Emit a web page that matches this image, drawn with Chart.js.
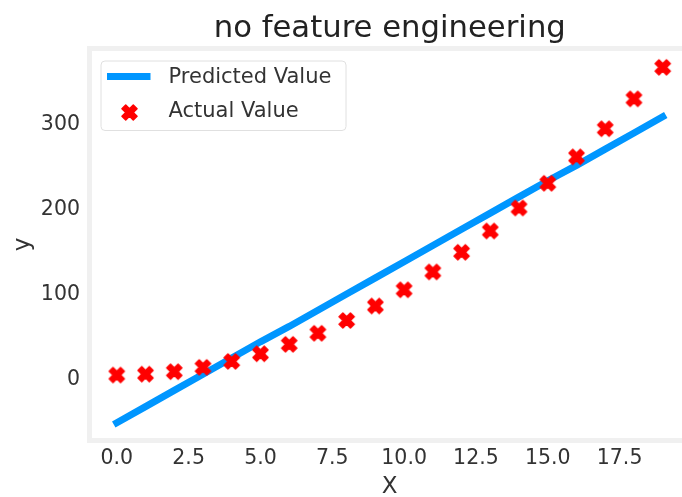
<!DOCTYPE html>
<html>
<head>
<meta charset="utf-8">
<script src="https://cdn.jsdelivr.net/npm/chart.js@4/dist/chart.umd.min.js"></script>
<style>
  html, body { margin: 0; padding: 0; background: #ffffff; overflow: hidden; }
  #wrap { width: 700px; height: 497px; }
</style>
</head>
<body>
<div id="wrap"><canvas id="c" width="700" height="497"></canvas></div>
<script>
// ---- data ----
const xValues = [0,1,2,3,4,5,6,7,8,9,10,11,12,13,14,15,16,17,18,19];
const actualValues = [1,2,5,10,17,26,37,50,65,82,101,122,145,170,197,226,257,290,325,362];
const predictedValues = [-55,-36,-17,2,21,40,58,77,96,115,134,153,172,191,210,229,247,266,285,304];
const xTickValues = [0,2.5,5,7.5,10,12.5,15,17.5];
const yTickValues = [0,100,200,300];
const seriesLabels = ['Predicted Value', 'Actual Value'];
const titleText = 'no feature engineering';
const xLabel = 'X';
const yLabel = 'y';

// ---- styles ----
const FONT = 'DejaVu Sans';
const BLUE = '#0096ff';
const RED = '#ff0000';
const TEXT = '#333333';

// filled "X" marker (matplotlib-like)
function makeXMarker(size) {
  const c = document.createElement('canvas');
  const d = Math.ceil(size * 1.05) + 4;
  c.width = d; c.height = d;
  const g = c.getContext('2d');
  g.translate(d / 2, d / 2);
  g.rotate(Math.PI / 4);
  const s = size / 6;
  const pts = [[-1,-3],[1,-3],[1,-1],[3,-1],[3,1],[1,1],[1,3],[-1,3],[-1,1],[-3,1],[-3,-1],[-1,-1]];
  g.beginPath();
  pts.forEach((p, i) => { const px = p[0]*s, py = p[1]*s; i ? g.lineTo(px, py) : g.moveTo(px, py); });
  g.closePath();
  g.fillStyle = RED;
  g.fill();
  g.strokeStyle = RED;
  g.lineJoin = 'round';
  g.lineWidth = 1.5;
  g.stroke();
  return c;
}
const xMarker = makeXMarker(16);

const framePlugin = {
  id: 'frame',
  afterDatasetsDraw(chart) {
    const {ctx, chartArea: a} = chart;
    ctx.save();
    ctx.strokeStyle = '#f0f0f0';
    ctx.lineWidth = 5;
    ctx.strokeRect(a.left, a.top, a.right - a.left, a.bottom - a.top);
    ctx.restore();
  }
};

const legendPlugin = {
  id: 'innerLegend',
  afterDraw(chart) {
    const {ctx, chartArea: a} = chart;
    const ds = chart.data.datasets;
    ctx.save();
    const x0 = a.left + 11.5, y0 = a.top + 12.5;
    const w = 245, h = 69.5, r = 4;
    ctx.beginPath();
    ctx.roundRect(x0, y0, w, h, r);
    ctx.fillStyle = 'rgba(255,255,255,0.85)';
    ctx.fill();
    ctx.strokeStyle = '#e0e0e0';
    ctx.lineWidth = 1;
    ctx.stroke();
    const row1 = y0 + 15.5, row2 = y0 + 50;
    ctx.strokeStyle = ds[0].borderColor;
    ctx.lineWidth = 7;
    ctx.lineCap = 'butt';
    ctx.beginPath();
    ctx.moveTo(x0 + 6, row1);
    ctx.lineTo(x0 + 49.5, row1);
    ctx.stroke();
    ctx.drawImage(xMarker, x0 + 28.5 - xMarker.width / 2, row2 + 1.5 - xMarker.height / 2);
    ctx.fillStyle = TEXT;
    ctx.font = '21px "' + FONT + '"';
    ctx.textBaseline = 'middle';
    ctx.textAlign = 'left';
    ctx.fillText(ds[0].label, x0 + 67.5, row1 + 1.5);
    ctx.fillText(ds[1].label, x0 + 67.5, row2 + 0.5);
    ctx.restore();
  }
};

new Chart(document.getElementById('c'), {
  type: 'scatter',
  data: {
    datasets: [
      {
        type: 'line',
        label: seriesLabels[0],
        data: xValues.map((x, i) => ({x: x, y: predictedValues[i]})),
        borderColor: BLUE,
        backgroundColor: BLUE,
        borderWidth: 7,
        borderCapStyle: 'square',
        pointRadius: 0,
        fill: false,
        tension: 0,
        order: 2
      },
      {
        type: 'scatter',
        label: seriesLabels[1],
        data: xValues.map((x, i) => ({x: x, y: actualValues[i]})),
        pointStyle: xMarker,
        pointRadius: 9,
        backgroundColor: RED,
        borderColor: RED,
        order: 1
      }
    ]
  },
  options: {
    responsive: false,
    devicePixelRatio: 1,
    animation: false,
    layout: { padding: { left: 0, right: 7.5, top: 0, bottom: 0 } },
    plugins: {
      legend: { display: false },
      tooltip: { enabled: false },
      title: {
        display: true,
        text: titleText,
        fullSize: false,
        color: '#222222',
        font: { family: FONT, size: 30.7, weight: 'normal', lineHeight: 1.2 },
        padding: { top: 10.6, bottom: 1.06 }
      }
    },
    scales: {
      x: {
        type: 'linear',
        min: -0.95,
        max: 19.95,
        grid: { display: false, drawTicks: false },
        border: { display: false },
        afterBuildTicks(scale) { scale.ticks = xTickValues.map(v => ({value: v})); },
        afterFit(scale) { scale.height = 56.5; },
        ticks: {
          color: TEXT,
          padding: 6.2,
          maxRotation: 0,
          font: { family: FONT, size: 20.5 },
          callback: v => Number(v).toFixed(1)
        },
        title: {
          display: true,
          text: xLabel,
          color: TEXT,
          font: { family: FONT, size: 23, lineHeight: 0.9 },
          padding: { top: 0, bottom: 0 }
        }
      },
      y: {
        type: 'linear',
        min: -75.8,
        max: 384.1,
        grid: { display: false, drawTicks: false },
        border: { display: false },
        afterBuildTicks(scale) { scale.ticks = yTickValues.map(v => ({value: v})); },
        afterFit(scale) { scale.width = 89.5; },
        ticks: {
          color: TEXT,
          padding: 9.5,
          labelOffset: 4,
          font: { family: FONT, size: 20.5 },
          callback: v => String(v)
        },
        title: {
          display: true,
          text: yLabel,
          color: TEXT,
          font: { family: FONT, size: 23, lineHeight: 1.2 },
          padding: { top: 8.8, bottom: 0 }
        }
      }
    }
  },
  plugins: [framePlugin, legendPlugin]
});
</script>
</body>
</html>
